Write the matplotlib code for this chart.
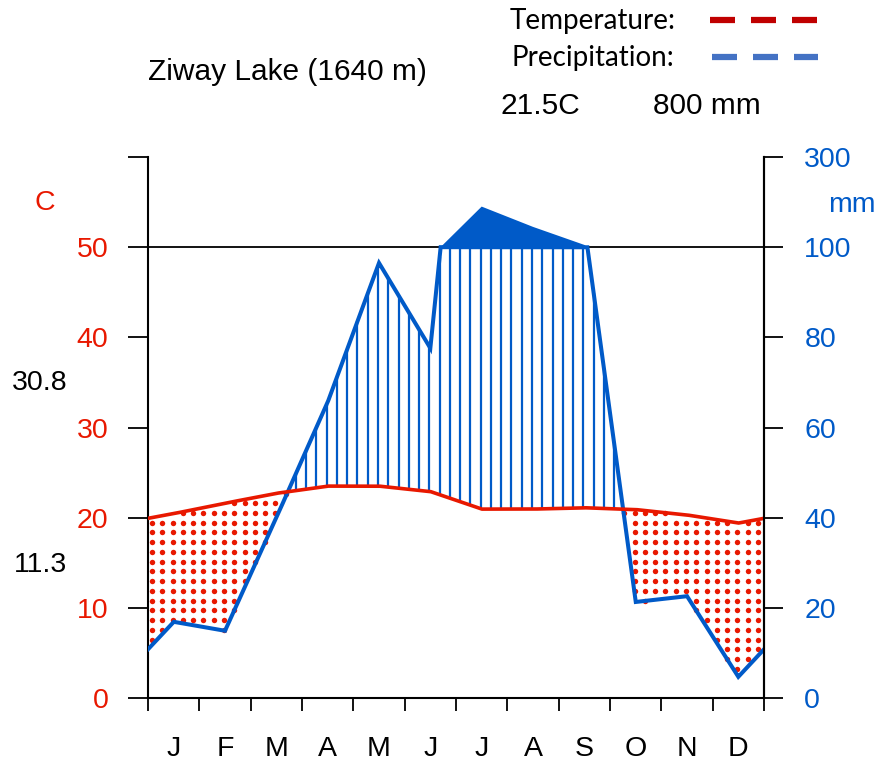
import numpy as np
import matplotlib
matplotlib.use('Agg')
import matplotlib.pyplot as plt
from matplotlib.lines import Line2D

# ---------------- data ----------------
months = ['J', 'F', 'M', 'A', 'M', 'J', 'J', 'A', 'S', 'O', 'N', 'D']
temp = [20.45, 21.6, 22.7, 23.5, 23.5, 22.9, 20.95, 20.95, 21.1, 20.9, 20.3, 19.4]
prec = [16.9, 14.9, 40.0, 65.6, 96.5, 77.6, 190.0, 145.0, 105.0, 21.3, 22.6, 4.7]
left_ticks = [0, 10, 20, 30, 40, 50]
right_labels = ['0', '20', '40', '60', '80', '100', '300']
station = 'Ziway Lake (1640 m)'
mean_temp_txt = '21.5C'
total_prec_txt = '800 mm'
max_warm_txt = '30.8'
min_cold_txt = '11.3'

TCOL = '#e81800'
PCOL = '#005ac8'
FS = 20.5
FONT = 'Liberation Sans'

# ---------------- helpers ----------------
t = np.array(temp)
p = np.array(prec)
xm = np.arange(12) + 0.5
xw = np.concatenate([[xm[-1] - 12], xm, [xm[0] + 12]])
tw = np.concatenate([[t[-1]], t, [t[0]]])
pw = np.concatenate([[p[-1]], p, [p[0]]]) / 2.0

xf = np.linspace(0, 12, 24001)
tf = np.interp(xf, xw, tw)
pf = np.interp(xf, xw, pw)
pc = np.minimum(pf, 50)

fig = plt.figure(figsize=(8.8, 7.61), dpi=100)
W, H = 880, 761
ax = fig.add_axes([148 / W, 1 - 698 / H, (764 - 148) / W, (698 - 157) / H])
ax.set_xlim(0, 12)
ax.set_ylim(0, 60)

# hatch lines / dots
xs = np.arange(0.08, 12, 0.2)
ts = np.interp(xs, xw, tw)
ps = np.minimum(np.interp(xs, xw, pw), 50)
hum = ps > ts
ax.vlines(xs[hum], ts[hum], ps[hum], color=PCOL, lw=1.6, zorder=2)
dy = 1.08
for xv, tv, pv in zip(xs, ts, ps):
    if tv > pv:
        ys = np.arange(np.ceil(pv / dy) * dy, tv, dy)
        ax.plot(np.full_like(ys, xv), ys, 'o', ms=3.9, mew=0, color=TCOL, zorder=2)

# >100 mm polygon (compressed scale)
poly_x, poly_y = [], []
pr = np.concatenate([[p[-1]], p, [p[0]]])
for i in range(len(xw) - 1):
    a, b = pr[i], pr[i + 1]
    if (a - 100) * (b - 100) < 0:
        xc = xw[i] + (100 - a) / (b - a) * (xw[i + 1] - xw[i])
        poly_x.append(xc); poly_y.append(50)
    if b > 100 and i + 1 < len(xw) - 1:
        poly_x.append(xw[i + 1]); poly_y.append(50 + (b - 100) / 20.0)
ax.fill(poly_x, poly_y, color=PCOL, lw=0, zorder=3)

# 100 mm line
ax.axhline(50, color='black', lw=1.3, zorder=1)

# lines
ax.plot(xf, pc, color=PCOL, lw=2.9, zorder=4, solid_joinstyle='miter')
ax.plot(xf, tf, color=TCOL, lw=2.6, zorder=5)

# axes styling
ax.spines['top'].set_visible(False)
for s in ['left', 'right', 'bottom']:
    ax.spines[s].set_linewidth(1.5)
ax.set_yticks(list(left_ticks) + [60])
ax.set_yticklabels([str(v) for v in left_ticks] + [''])
ax.tick_params(axis='y', which='major', direction='out', length=14.5, width=1.3,
               pad=14, labelsize=FS, labelcolor=TCOL)
for lbl in ax.get_yticklabels():
    lbl.set_fontfamily(FONT)

ax.set_xticks(np.arange(13))
ax.set_xticklabels([''] * 13)
ax.set_xticks(xm, minor=True)
ax.set_xticklabels(months, minor=True, fontsize=FS, fontfamily=FONT)
ax.tick_params(axis='x', which='major', direction='out', length=9.5, width=1.3)
ax.tick_params(axis='x', which='minor', length=0, pad=27)

ax2 = ax.twinx()
ax2.set_ylim(0, 60)
ax2.set_yticks(np.arange(0, 61, 10))
ax2.set_yticklabels(right_labels, fontsize=FS, fontfamily=FONT, color=PCOL)
ax2.tick_params(axis='y', direction='out', length=14, width=1.3, pad=15)
for s in ['top', 'left', 'bottom']:
    ax2.spines[s].set_visible(False)
ax2.spines['right'].set_linewidth(1.5)

# texts
fig.text(45 / W, 1 - 203 / H, 'C', color=TCOL, fontsize=FS, ha='center', va='center',
         fontfamily=FONT)
fig.text(852 / W, 1 - 205 / H, 'mm', color=PCOL, fontsize=FS, ha='center', va='center',
         fontfamily=FONT)
fig.text(40 / W, 1 - 383 / H, max_warm_txt, color='black', fontsize=FS, ha='center',
         va='center', fontfamily=FONT)
fig.text(40 / W, 1 - 565 / H, min_cold_txt, color='black', fontsize=FS, ha='center',
         va='center', fontfamily=FONT)
fig.text(148 / W, 1 - 72 / H, station, color='black', fontsize=21.5, ha='left',
         va='center', fontfamily=FONT)
fig.text(540 / W, 1 - 106 / H, mean_temp_txt, color='black', fontsize=21.5, ha='center',
         va='center', fontfamily=FONT)
fig.text(707 / W, 1 - 106 / H, total_prec_txt, color='black', fontsize=21.5, ha='center',
         va='center', fontfamily=FONT)

fig.text(510 / W, 1 - 21 / H, 'Temperature:', color='black', fontsize=20, ha='left',
         va='center', fontfamily='Lato')
fig.text(511 / W, 1 - 58 / H, 'Precipitation:', color='black', fontsize=20, ha='left',
         va='center', fontfamily='Lato')
fig.add_artist(Line2D([710 / W, 817 / W], [1 - 20 / H] * 2, color='#c00000', lw=4.5,
                      dashes=(4.0, 2.56), solid_capstyle='butt', dash_capstyle='butt'))
fig.add_artist(Line2D([712 / W, 818 / W], [1 - 57 / H] * 2, color='#4472c4', lw=4.5,
                      dashes=(4.0, 2.56), solid_capstyle='butt', dash_capstyle='butt'))

fig.savefig('out.png', dpi=100)
